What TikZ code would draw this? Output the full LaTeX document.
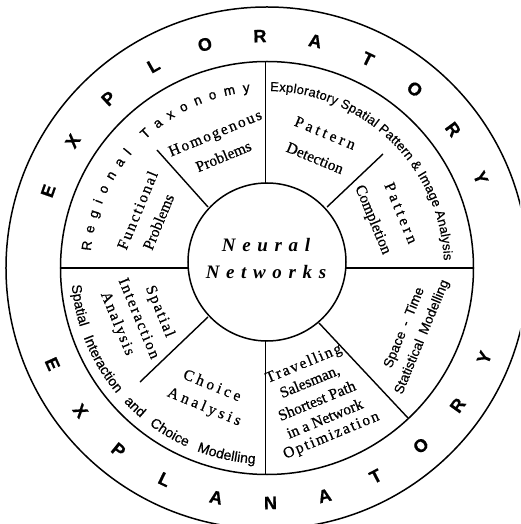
\documentclass[tikz,border=0pt]{standalone}
\usepackage{fontspec}
\setmainfont{Liberation Serif}[FakeBold=0.6]
\setsansfont{Liberation Sans}
\newfontfamily\lsserif[LetterSpace=12,FakeBold=0.6]{Liberation Serif}
\newfontfamily\wideserif[LetterSpace=22,FakeBold=0.6]{Liberation Serif}
\newfontfamily\nnfont[LetterSpace=35]{Liberation Serif}
\newfontfamily\arcsans[FakeBold=0.5]{Liberation Sans}
\newfontfamily\heavysans[FakeBold=1.0]{Liberation Sans}
\newfontfamily\capsans[FakeBold=0.8]{Liberation Sans}
\usetikzlibrary{decorations.text}
\begin{document}
\begin{tikzpicture}[x=1pt,y=1pt,
  ringline/.style={draw, circle, inner sep=0pt, outer sep=0pt, line width=1.5pt},
  divider/.style={line width=1.4pt},
  bigletter/.style={font=\capsans\bfseries\fontsize{18}{20}\selectfont, inner sep=0pt},
  serifl/.style={font=\fontsize{15.5}{18}\selectfont, inner sep=0pt},
  spaced/.style={font=\lsserif\fontsize{15.5}{18}\selectfont, inner sep=0pt},
  wide/.style={font=\wideserif\fontsize{15.5}{18}\selectfont, inner sep=0pt},
  sansl/.style={font=\arcsans\fontsize{13.5}{16}\selectfont, inner sep=0pt}]
\useasboundingbox (-267,-256) rectangle (253,268);
\clip (-267,-256) rectangle (253,268);
\fill[white] (-267,-256) rectangle (253,268);

% rings
\node[ringline, minimum size=522pt] (outer) at (0,0) {};
\node[ringline, minimum size=413pt] (mid) at (0,0) {};
\node[ringline, minimum size=158pt] (core) at (0,6) {};

% divider end points
\coordinate (tA) at (-1.5,85);   \coordinate (tB) at (-1.5,206.5);
\coordinate (bA) at (-1.5,-73);  \coordinate (bB) at (-1.5,-206.5);
\coordinate (lA) at (-78.8,0);   \coordinate (lB) at (-206.5,0);
\coordinate (rA) at (78.8,0);    \coordinate (rB) at (206.5,0);
\coordinate (ulA) at (-59,61);   \coordinate (ulB) at (-110,118);
\coordinate (urA) at (60,61);    \coordinate (urB) at (116,114);
\coordinate (llA) at (-59,-49);  \coordinate (llB) at (-127,-114);
\coordinate (lrA) at (52,-55);   \coordinate (lrB) at (141,-150);
\foreach \p in {t,b,l,r,ul,ur,ll,lr} \draw[divider] (\p A) -- (\p B);

% centre text
\node[font=\nnfont\bfseries\itshape\fontsize{19}{27}\selectfont, align=center, inner sep=0pt] (nn) at (-1,9) {Neural\\Networks};

% outer ring letters
\foreach \l [count=\i from 0] in {E,X,P,L,O,R,A,T,O,R,Y}
  \node[bigletter, rotate={91.75+(5-\i)*13.77-90}] (top\i) at ({91.75+(5-\i)*13.77}:232) {\l};
\foreach \l [count=\i from 0] in {E,X,P,L,A,N,A,T,O,R,Y}
  \node[bigletter, rotate={-89.15+(\i-5)*13.35+90}] (bot\i) at ({-89.15+(\i-5)*13.35}:235) {\l};

% arc texts
\path[decorate, decoration={text along path, text={|\heavysans\fontsize{13.5}{16}\selectfont|Regional Taxonomy}, text align={fit to path}}]
  (174.5:177) arc[start angle=174.5, end angle=95.5, radius=177];
\path[decorate, decoration={text along path, text={|\arcsans\fontsize{13}{15}\selectfont|Exploratory Spatial Pattern {\&} Image Analysis}, text align={fit to path}}]
  (89:177) arc[start angle=89, end angle=2.5, radius=177];
\path[decorate, decoration={text along path, text={|\arcsans\fontsize{14}{16}\selectfont|Spatial Interaction and Choice Modelling}, text align={fit to path stretching spaces}}]
  (185:196) arc[start angle=185, end angle=266.5, radius=196];

% upper-left sectors
\node[spaced, rotate=67.5] (func) at (156:142) {Functional};
\node[serifl, rotate=67.5] (prob1) at (157:118) {Problems};
\node[spaced, rotate=22.5] (homo) at (111:143) {Homogenous};
\node[serifl, rotate=22.5] (prob2) at (111.3:120) {Problems};
% upper-right sectors
\node[wide, rotate=-22.5] (patt1) at (66.7:147) {Pattern};
\node[serifl, rotate=-22.5] (detec) at (66.4:120) {Detection};
\node[wide, rotate=-67.5] (patt2) at (22.3:145) {Pattern};
\node[serifl, rotate=-67.5] (compl) at (24.5:116) {Completion};
% lower-right sectors
\node[sansl, rotate=67.5] (spti) at (-23.5:150) {Space\enspace-\enspace Time};
\node[sansl, rotate=67.5] (stat) at (-24:170) {Statistical\enspace Modelling};
\node[spaced, rotate=22.5] (trav) at (-69:103) {Travelling};
\node[serifl, rotate=22.5] (sale) at (-69.4:122) {Salesman,};
\node[serifl, rotate=22.5] (shor) at (-69.4:141.5) {Shortest Path};
\node[serifl, rotate=22.5] (inan) at (-69:161) {in a Network};
\node[spaced, rotate=22.5] (opti) at (-69:180) {Optimization};
% lower-left sectors
\node[wide, rotate=-22.5] (choi) at (-115:129) {Choice};
\node[wide, rotate=-22.5] (anal1) at (-114.3:153) {Analysis};
\node[spaced, rotate=-67.5] (spat) at (-158:116) {Spatial};
\node[spaced, rotate=-67.5] (inte) at (-158.5:137) {Interaction};
\node[spaced, rotate=-67.5] (anal2) at (-159.6:160) {Analysis};
\end{tikzpicture}
\end{document}
